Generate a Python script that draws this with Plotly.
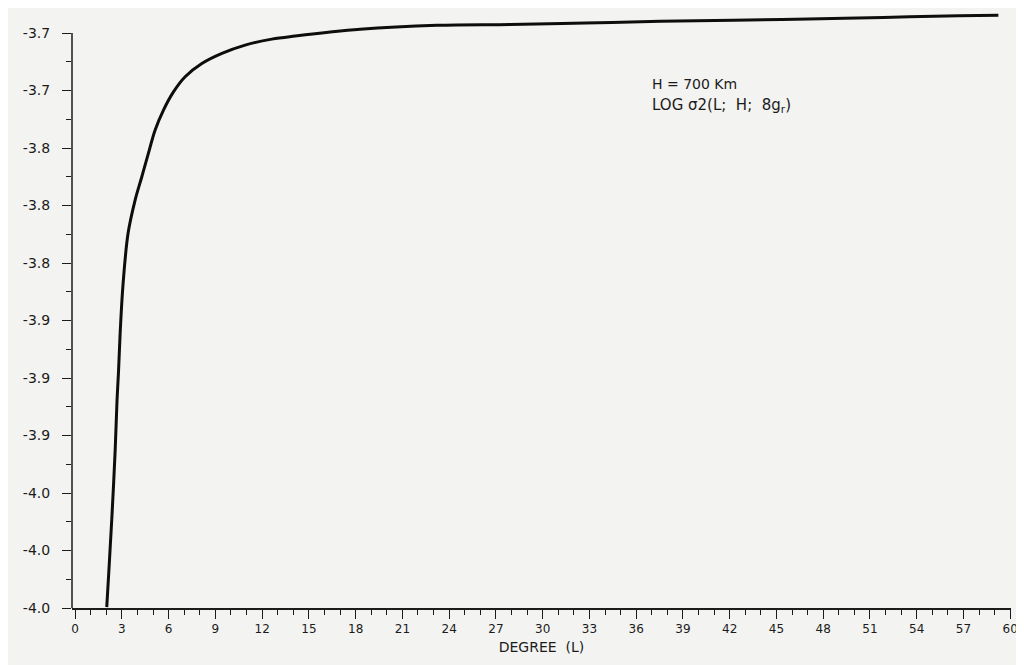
import plotly.graph_objects as go

# Data
degree = [2.03, 2.18, 2.36, 2.57, 2.69, 2.78, 2.89, 3.08, 3.40, 3.85, 4.28,
          4.70, 5.13, 5.67, 6.31, 7.06, 8.13, 9.42, 10.91, 12.62, 14.12, 18.29,
          23.23, 27.92, 32.73, 37.55, 42.23, 47.05, 51.86, 56.68, 59.24]
log_sigma2 = [-3.9995, -3.9786, -3.9525, -3.9176, -3.8915, -3.8774, -3.8565,
              -3.8305, -3.8044, -3.7872, -3.7750, -3.7628, -3.7507,
              -3.7402, -3.7307, -3.7228, -3.7159, -3.7106, -3.7063, -3.7032,
              -3.7016, -3.6981, -3.6960, -3.6955, -3.6948, -3.6939, -3.6933,
              -3.6927, -3.6919, -3.6910, -3.6907]

y_tickvals = [-4.00, -3.97, -3.94, -3.91, -3.88, -3.85, -3.82, -3.79, -3.76, -3.73, -3.70]
y_ticktext = ["-4.0", "-4.0", "-4.0", "-3.9", "-3.9", "-3.9",
              "-3.8", "-3.8", "-3.8", "-3.7", "-3.7"]
x_tickvals = list(range(0, 61, 3))
x_ticktext = [str(v) for v in x_tickvals]

FONT = "DejaVu Sans, Liberation Sans, Arial, sans-serif"
INK = "#1b1b1b"
BG = "#f3f3f1"

fig = go.Figure()
fig.add_trace(go.Scatter(
    x=degree, y=log_sigma2, mode="lines",
    line=dict(color="#0d0d0d", width=3, shape="spline", smoothing=1.0),
    hoverinfo="skip", showlegend=False,
))

fig.update_layout(
    width=1016, height=657,
    margin=dict(l=64, r=13, t=2, b=57, autoexpand=False),
    paper_bgcolor=BG, plot_bgcolor=BG,
    font=dict(family=FONT, color=INK, size=11),
    showlegend=False,
    xaxis=dict(
        range=[-0.2, 60.05], showgrid=False, zeroline=False,
        showline=True, linecolor=INK, linewidth=1.5,
        tickmode="array", tickvals=x_tickvals, ticktext=x_ticktext,
        ticks="outside", ticklen=9, tickwidth=1.3, tickcolor=INK,
        minor=dict(dtick=1, tick0=0, ticks="outside", ticklen=5,
                   tickwidth=1.2, tickcolor=INK, showgrid=False),
        tickfont=dict(size=12, color=INK, family=FONT),
        title=dict(text="DEGREE  (L)", font=dict(size=14, color=INK, family=FONT),
                   standoff=7),
    ),
    yaxis=dict(
        range=[-4.0, -3.688], showgrid=False, zeroline=False, showline=False,
        tickmode="array", tickvals=y_tickvals, ticktext=y_ticktext,
        ticks="outside", ticklen=9, tickwidth=1.3, tickcolor=INK,
        minor=dict(dtick=0.015, tick0=-4.0, ticks="outside", ticklen=5,
                   tickwidth=1.2, tickcolor=INK, showgrid=False),
        tickfont=dict(size=14, color=INK, family=FONT),
        ticklabelstandoff=9,
    ),
    shapes=[dict(type="line", xref="paper", yref="y", x0=0, x1=0,
                 y0=-4.0, y1=-3.70, line=dict(color=INK, width=1.5))],
    annotations=[
        dict(xref="paper", yref="paper", x=0.6155, y=0.876, xanchor="left",
             yanchor="middle", showarrow=False, align="left",
             text="H = 700 Km", font=dict(size=14, color=INK, family=FONT)),
        dict(xref="paper", yref="paper", x=0.6155, y=0.841, xanchor="left",
             yanchor="middle", showarrow=False, align="left",
             text="LOG σ2(L;  H;  8g<sub>r</sub>)",
             font=dict(size=15, color=INK, family=FONT)),
    ],
)

fig.write_html("out.html")
